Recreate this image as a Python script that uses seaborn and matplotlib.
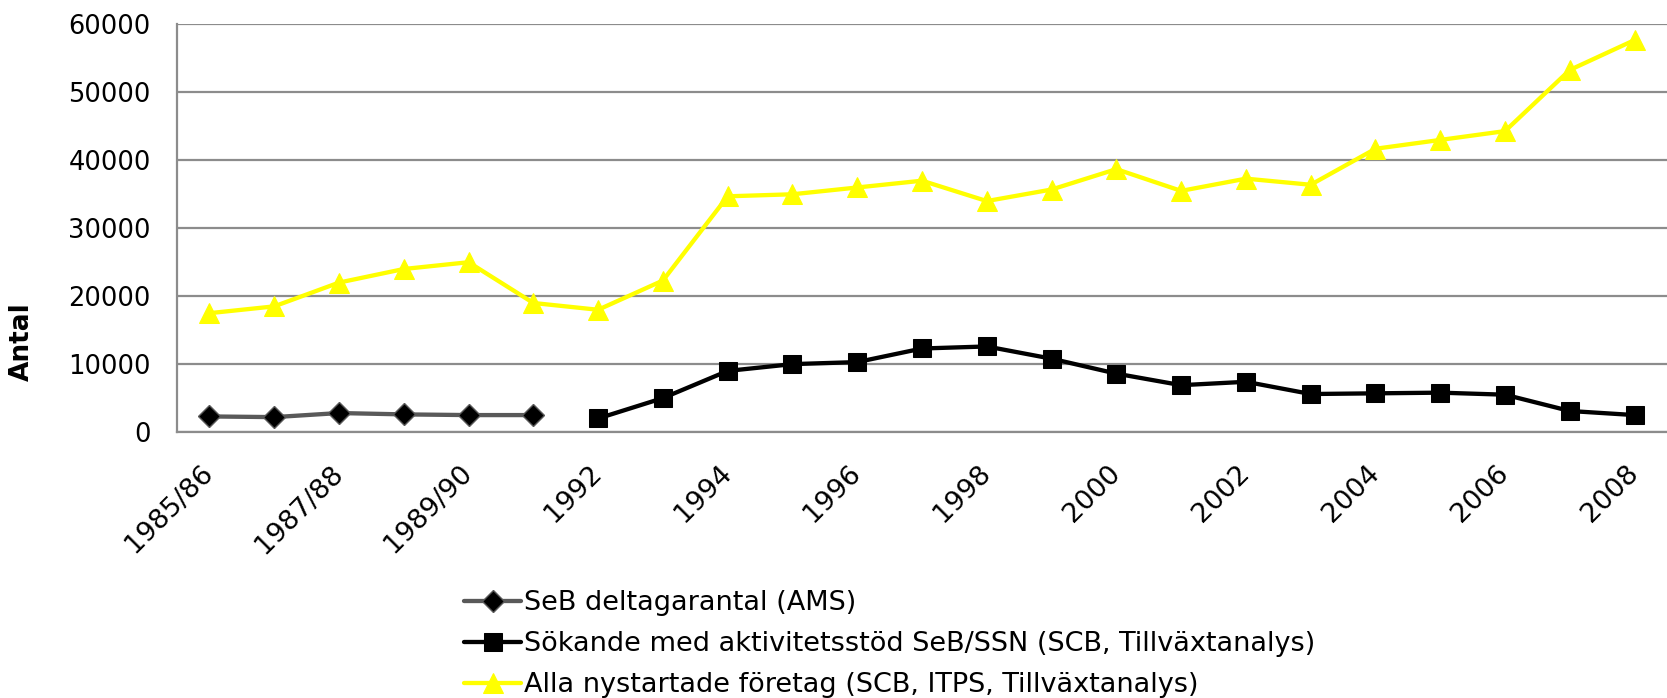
import numpy as np
import pandas as pd
import matplotlib
matplotlib.use("Agg")
import matplotlib.pyplot as plt
import seaborn as sns

# Year categories (x axis)
years = ["1985/86", "1986/87", "1987/88", "1988/89", "1989/90", "1990/91",
         "1992", "1993", "1994", "1995", "1996", "1997", "1998", "1999", "2000",
         "2001", "2002", "2003", "2004", "2005", "2006", "2007", "2008"]

# SeB deltagarantal (AMS)
seb_ams = [2300, 2200, 2800, 2600, 2500, 2500] + [np.nan] * 17

# Sökande med aktivitetsstöd SeB/SSN
sokande = [np.nan] * 6 + [2000, 5000, 9000, 10000, 10300, 12300, 12600, 10800, 8600,
                          6900, 7400, 5600, 5700, 5800, 5500, 3100, 2500]

# Alla nystartade företag
nystartade = [17500, 18500, 22000, 24000, 25000, 19000, 18000, 22300, 34700, 35000,
              36000, 37000, 34000, 35700, 38700, 35500, 37300, 36400, 41700, 43000,
              44300, 53300, 57700]

labels = ["SeB deltagarantal (AMS)",
          "Sökande med aktivitetsstöd SeB/SSN (SCB, Tillväxtanalys)",
          "Alla nystartade företag (SCB, ITPS, Tillväxtanalys)"]

df = pd.DataFrame({"pos": np.arange(len(years)), "ams": seb_ams,
                   "sok": sokande, "ny": nystartade})

sns.set_style("white")
plt.rcParams["font.family"] = ["DejaVu Sans"]
plt.rcParams["text.color"] = "black"
plt.rcParams["axes.labelcolor"] = "black"

fig = plt.figure(figsize=(16.67, 6.98), dpi=100)
ax = fig.add_axes([0.1062, 0.381, 0.8938, 0.584])

sns.lineplot(data=df, x="pos", y="ams", ax=ax, color="#595959", linewidth=3.1,
             marker="D", markersize=11, markerfacecolor="black",
             markeredgecolor="#595959", markeredgewidth=1, label=labels[0])
sns.lineplot(data=df, x="pos", y="sok", ax=ax, color="black", linewidth=3.1,
             marker="s", markersize=13, markerfacecolor="black",
             markeredgecolor="black", label=labels[1])
sns.lineplot(data=df, x="pos", y="ny", ax=ax, color="#ffff00", linewidth=3.1,
             marker="^", markersize=14, markerfacecolor="#ffff00",
             markeredgecolor="#ffff00", label=labels[2])

ax.set_xlim(-0.5, 22.35)
ax.set_ylim(0, 60000)
ax.set_yticks(range(0, 60001, 10000))
ax.yaxis.grid(True, color="#8c8c8c", linewidth=1.6)
ax.set_axisbelow(True)

# category labels every other year, tick marks between categories
ax.set_xticks(np.arange(0, len(years), 2))
ax.set_xticklabels(years[::2], rotation=45, ha="right", va="center",
                   rotation_mode="anchor", fontsize=19.5)
ax.set_xticks(np.arange(-0.5, len(years), 1), minor=True)
ax.tick_params(axis="x", which="major", length=0, pad=27, labelcolor="black")
ax.tick_params(axis="x", which="minor", length=6, color="#8c8c8c", width=1.3)
ax.tick_params(axis="y", length=6.5, color="#8c8c8c", width=1.3, labelsize=18.5,
               labelcolor="black", pad=12.5)

for side in ["top", "right"]:
    ax.spines[side].set_visible(False)
for side in ["left", "bottom"]:
    ax.spines[side].set_color("#8c8c8c")
    ax.spines[side].set_linewidth(1.6)

ax.set_xlabel("")
ax.set_ylabel("Antal", fontsize=19, fontweight="bold")
ax.yaxis.set_label_coords(-0.0953, 0.223)

ax.get_legend().remove()
handles, labs = ax.get_legend_handles_labels()
fig.legend(handles, labs, loc="upper left", bbox_to_anchor=(0.2705, 0.174),
           frameon=False, fontsize=19.5, handlelength=2.1, handletextpad=0.1,
           labelspacing=0.56, borderpad=0)

fig.savefig("out.png", dpi=100)
